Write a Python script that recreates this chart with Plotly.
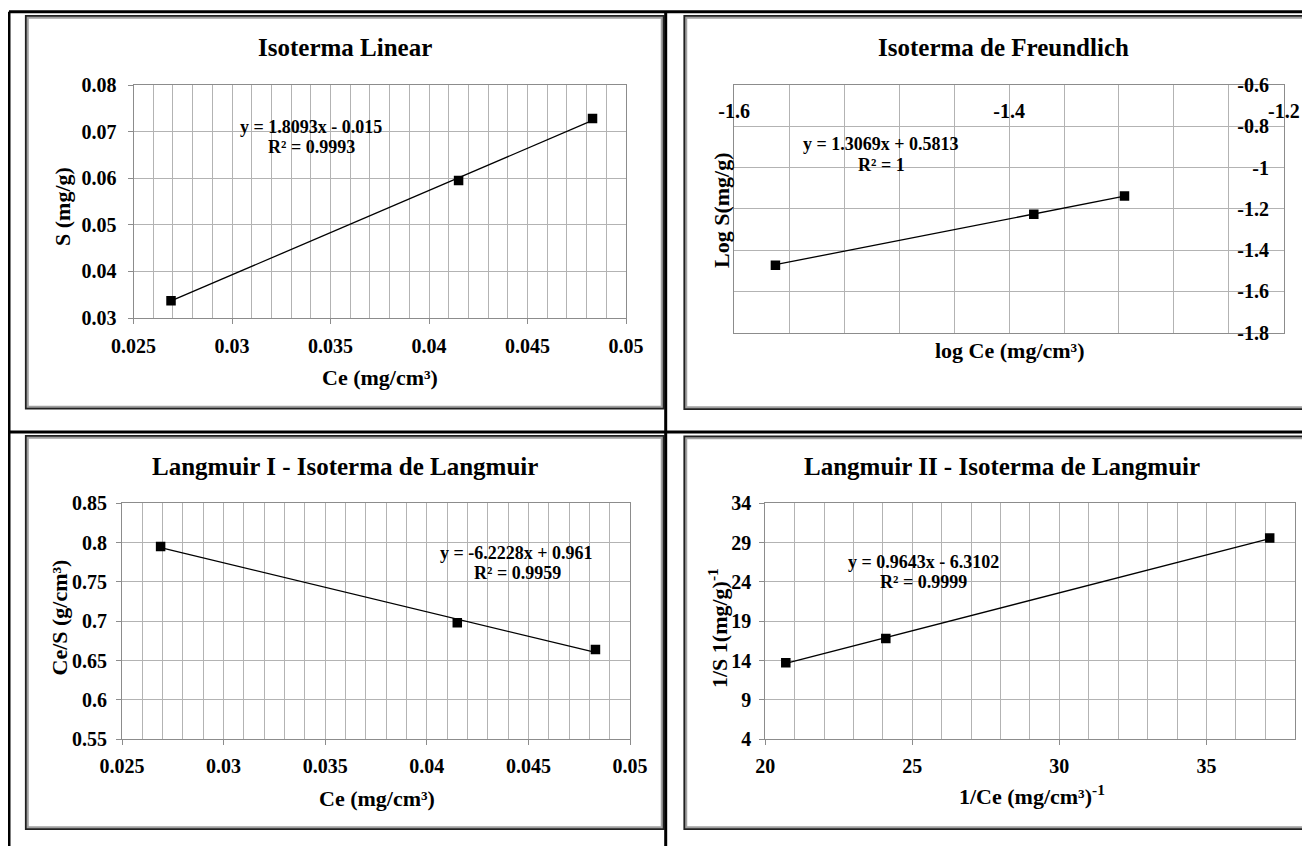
import plotly.graph_objects as go

# ---------------- data ----------------
ce = [0.0269, 0.0415, 0.0483]          # Ce (mg/cm3)
s_vals = [0.0337, 0.0595, 0.0728]       # S (mg/g)
log_ce = [-1.570, -1.382, -1.316]       # log Ce
log_s = [-1.473, -1.226, -1.138]        # log S
ce_over_s = [0.795, 0.698, 0.664]       # Ce/S
inv_ce = [20.70, 24.10, 37.15]          # 1/Ce
inv_s = [13.74, 16.80, 29.60]           # 1/S

fit_linear = [1.8093, -0.015]
fit_freund = [1.3069, 0.5813]
fit_lang1 = [-6.2228, 0.961]
fit_lang2 = [0.9643, -6.3102]

titles = ["Isoterma Linear", "Isoterma de Freundlich",
          "Langmuir I - Isoterma de Langmuir", "Langmuir II - Isoterma de Langmuir"]
eq_texts = [["y = 1.8093x - 0.015", "R² = 0.9993"],
            ["y = 1.3069x + 0.5813", "R² = 1"],
            ["y = -6.2228x + 0.961", "R² = 0.9959"],
            ["y = 0.9643x - 6.3102", "R² = 0.9999"]]

p1_xticks = [0.025, 0.03, 0.035, 0.04, 0.045, 0.05]
p1_xlabels = ["0.025", "0.03", "0.035", "0.04", "0.045", "0.05"]
p1_yticks = [0.03, 0.04, 0.05, 0.06, 0.07, 0.08]
p1_ylabels = ["0.03", "0.04", "0.05", "0.06", "0.07", "0.08"]
p2_xticks = [-1.6, -1.4, -1.2]
p2_xlabels = ["-1.6", "-1.4", "-1.2"]
p2_yticks = [-1.8, -1.6, -1.4, -1.2, -1.0, -0.8, -0.6]
p2_ylabels = ["-1.8", "-1.6", "-1.4", "-1.2", "-1", "-0.8", "-0.6"]
p3_yticks = [0.55, 0.6, 0.65, 0.7, 0.75, 0.8, 0.85]
p3_ylabels = ["0.55", "0.6", "0.65", "0.7", "0.75", "0.8", "0.85"]
p4_xticks = [20, 25, 30, 35]
p4_xlabels = ["20", "25", "30", "35"]
p4_yticks = [4, 9, 14, 19, 24, 29, 34]
p4_ylabels = ["4", "9", "14", "19", "24", "29", "34"]

# ---------------- layout helpers ----------------
W, H = 1310, 846
OFF = 8  # page body margin: figure is drawn 8px from the window's top-left
FONT = "Liberation Serif"
GRID = "#b3b3b3"
AXL = "#8c8c8c"


def X(px):
    return (px - OFF) / W


def Y(py):
    return 1 - (py - OFF) / H


fig = go.Figure()


def add_panel(xs, ys, fit, xa, ya):
    fig.add_trace(go.Scatter(x=xs, y=ys, mode="markers", xaxis=xa, yaxis=ya,
                             marker=dict(symbol="square", size=9.5, color="black"),
                             showlegend=False, hoverinfo="skip"))
    x0, x1 = min(xs), max(xs)
    fig.add_trace(go.Scatter(x=[x0, x1], y=[fit[0] * x0 + fit[1], fit[0] * x1 + fit[1]],
                             mode="lines", xaxis=xa, yaxis=ya,
                             line=dict(color="black", width=1.3),
                             showlegend=False, hoverinfo="skip"))


add_panel(ce, s_vals, fit_linear, "x", "y")
add_panel(log_ce, log_s, fit_freund, "x2", "y2")
add_panel(ce, ce_over_s, fit_lang1, "x3", "y3")
add_panel(inv_ce, inv_s, fit_lang2, "x4", "y4")
fig.add_trace(go.Scatter(x=log_ce, y=log_s, xaxis="x5", yaxis="y2", mode="markers",
                         marker=dict(opacity=0), showlegend=False, hoverinfo="skip"))
fig.add_trace(go.Scatter(x=log_ce, y=log_s, xaxis="x2", yaxis="y5", mode="markers",
                         marker=dict(opacity=0), showlegend=False, hoverinfo="skip"))

TICKFONT = dict(family=FONT, size=20, color="black", weight="bold")


def axis(rng, tv, tt, dom, anchor, minor=None, standoff=8):
    d = dict(range=rng, tickvals=tv, ticktext=tt, domain=dom, anchor=anchor,
             automargin=False,
             showgrid=True, gridcolor=GRID, gridwidth=1,
             showline=True, linecolor=AXL, linewidth=1, mirror=True,
             zeroline=False, ticks="outside", ticklen=5, tickcolor=AXL,
             tickfont=TICKFONT, ticklabelstandoff=standoff, fixedrange=True)
    if minor:
        d["minor"] = dict(showgrid=True, gridcolor=GRID, gridwidth=1, ticks="", **minor)
    return d


dom1x = [X(133.6), X(626)]
dom1y = [Y(318), Y(85)]
dom2x = [X(734.2), X(1283.9)]
dom2y = [Y(332.7), Y(85)]
dom3x = [X(122), X(630)]
dom3y = [Y(739.3), Y(503.3)]
dom4x = [X(765.2), X(1294.7)]
dom4y = [Y(739.3), Y(503.3)]

fig.update_layout(
    template="none",
    width=W, height=H, autosize=False,
    margin=dict(l=0, r=0, t=0, b=0, pad=0),
    paper_bgcolor="white", plot_bgcolor="white",
    xaxis=axis([0.025, 0.05], p1_xticks, p1_xlabels, dom1x, "y",
               minor=dict(tick0=0.025, dtick=0.001), standoff=5),
    yaxis=axis([0.03, 0.08], p1_yticks, p1_ylabels, dom1y, "x", standoff=7),
    xaxis2=dict(axis([-1.6, -1.2], p2_xticks, p2_xlabels, dom2x, "y2",
                     minor=dict(tick0=-1.6, dtick=0.04)),
                showticklabels=False, ticks=""),
    yaxis2=dict(axis([-1.8, -0.6], p2_yticks, p2_ylabels, dom2y, "x2"),
                showticklabels=False, ticks="", side="right"),
    xaxis3=axis([0.025, 0.05], p1_xticks, p1_xlabels, dom3x, "y3",
                minor=dict(tick0=0.025, dtick=0.001), standoff=4),
    yaxis3=axis([0.55, 0.85], p3_yticks, p3_ylabels, dom3y, "x3", standoff=5),
    xaxis4=axis([20, 38], p4_xticks, p4_xlabels, dom4x, "y4",
                minor=dict(tick0=20, dtick=1), standoff=4),
    yaxis4=axis([4, 34], p4_yticks, p4_ylabels, dom4y, "x4", standoff=4),
    xaxis5=dict(overlaying="x2", anchor="free", position=Y(97), side="bottom",
                range=[-1.6, -1.2], tickvals=p2_xticks, ticktext=p2_xlabels,
                automargin=False,
                showgrid=False, showline=False, zeroline=False, ticks="",
                tickfont=TICKFONT, fixedrange=True),
    yaxis5=dict(overlaying="y2", anchor="free", position=X(1269), side="left",
                range=[-1.8, -0.6], tickvals=p2_yticks, ticktext=p2_ylabels,
                automargin=False,
                showgrid=False, showline=False, zeroline=False, ticks="",
                tickfont=TICKFONT, fixedrange=True),
)

ann = []


def txt(x, y, t, size, angle=0):
    ann.append(dict(x=X(x), y=Y(y), xref="paper", yref="paper", text=t, showarrow=False,
                    textangle=angle, xanchor="center", yanchor="middle",
                    font=dict(family=FONT, size=size, color="black", weight="bold")))


TS, AS, ES = 25, 22, 18
txt(345, 47, titles[0], TS)
txt(1003, 47, titles[1], TS)
txt(345, 467, titles[2], TS)
txt(1002, 467, titles[3], TS)
txt(380, 377, "Ce (mg/cm³)", AS)
txt(62, 207, "S (mg/g)", AS, -90)
txt(1009.5, 350, "log Ce (mg/cm³)", AS)
txt(721, 210, "Log S(mg/g)", AS, -90)
txt(377, 798, "Ce (mg/cm³)", AS)
txt(58.5, 618, "Ce/S (g/cm³)", AS, -90)
txt(1031.5, 795, "1/Ce (mg/cm³)<sup>-1</sup>", AS)
txt(718, 628, "1/S 1(mg/g)<sup>-1</sup>", AS, -90)
txt(311, 127, eq_texts[0][0], ES)
txt(311.5, 147, eq_texts[0][1], ES)
txt(881, 144, eq_texts[1][0], ES)
txt(881.5, 165, eq_texts[1][1], ES)
txt(516, 553, eq_texts[2][0], ES)
txt(517, 573, eq_texts[2][1], ES)
txt(923, 562, eq_texts[3][0], ES)
txt(923, 582, eq_texts[3][1], ES)
fig.update_layout(annotations=ann)

shapes = []


def rect(x0, y0, x1, y1, color, width):
    shapes.append(dict(type="rect", xref="paper", yref="paper", x0=X(x0), x1=X(x1),
                       y0=Y(y1), y1=Y(y0), line=dict(color=color, width=width),
                       fillcolor="rgba(0,0,0,0)", layer="below"))


def line(x0, y0, x1, y1, color="black", width=3):
    shapes.append(dict(type="line", xref="paper", yref="paper", x0=X(x0), x1=X(x1),
                       y0=Y(y0), y1=Y(y1), line=dict(color=color, width=width)))


for (x0, y0, x1, y1) in [(25, 15, 664.5, 409.5), (683.5, 15, 1330, 410),
                         (25, 435, 664.5, 830), (683.5, 435.5, 1330, 830)]:
    rect(x0 + 2.5, y0 + 2.5, x1 - 2.5, y1 - 2.5, "#a0a0a0", 2.5)
    rect(x0 + 0.8, y0 + 0.8, x1 - 0.8, y1 - 0.8, "#202020", 1.8)

line(9, 11.7, 1330, 11.7)
line(9, 11.7, 9, 860)
line(665.7, 11.7, 665.7, 860)
line(9, 432, 1330, 432)

fig.update_layout(shapes=shapes)

fig.write_html("out.html")
